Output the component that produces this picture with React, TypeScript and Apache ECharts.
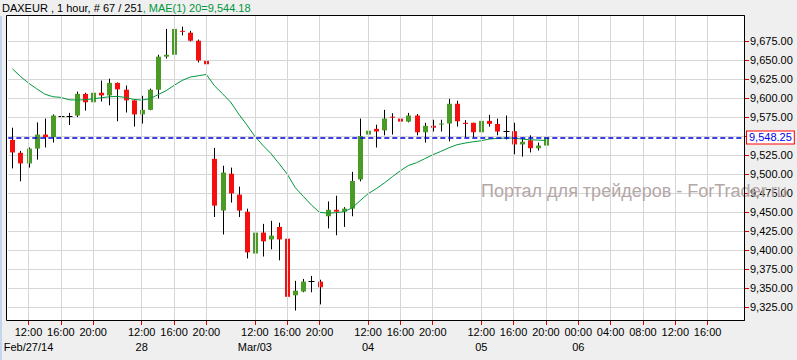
import React, { useEffect, useRef } from 'react';
import * as echarts from 'echarts';

// ---- data ----
const openV = [9545, 9528, 9514, 9533.5, 9552, 9548.5, 9577, 9577, 9577, 9605.5, 9594.5, 9607,
  9603.5, 9620, 9611, 9597, 9578.5, 9584.5, 9611, 9654.5, 9657, 9688.5, 9686, 9675.5, 9649, 9520,
  9452, 9500.5, 9473, 9450.5, 9395.5, 9423, 9414, 9430.5, 9415, 9340.5, 9345.5, 9359, 9358.5, 9444.5,
  9453, 9450.5, 9454.5, 9493, 9552, 9559.5, 9557.5, 9575.5, 9573, 9569, 9577, 9555, 9563.5, 9565.5,
  9566.5, 9592.5, 9567.5, 9567.5, 9555, 9570, 9566, 9556.5, 9556.5, 9539, 9544.5, 9534, 9537.5];
const closeV = [9528.5, 9514, 9533.5, 9552, 9548.5, 9577, 9577, 9577, 9605.5, 9594.5, 9607, 9603.5,
  9620, 9611.5, 9597, 9578.5, 9584.5, 9611, 9654.5, 9657, 9691, 9687.5, 9675.5, 9649.5, 9644.5, 9458.5,
  9502, 9474.5, 9452, 9397, 9423, 9411.5, 9419, 9414, 9338.5, 9346.5, 9358.5, 9359, 9351, 9453,
  9450.5, 9454.5, 9491, 9550, 9557, 9556, 9573, 9574.5, 9569, 9577, 9555, 9563.5, 9561, 9566.5,
  9592.5, 9569.5, 9566, 9555, 9570, 9566, 9556, 9556.5, 9539, 9542.5, 9534, 9537.5, 9548.25];
const lowV = [9507.5, 9490.5, 9508.5, 9519, 9535, 9541.5, 9570.5, 9564.5, 9575, 9583.5, 9586.5, 9595.5,
  9590.5, 9569.5, 9581, 9562.5, 9566.5, 9584, 9599.5, 9652, 9654.5, 9682.5, 9674.5, 9647, 9580, 9443.5,
  9420.5, 9462.5, 9443.5, 9389, 9381, 9391.5, 9401, 9386.5, 9337.5, 9320.5, 9344.5, 9344.5, 9328.5, 9428.5,
  9419.5, 9430.5, 9444.5, 9490.5, 9548.5, 9535, 9551, 9552, 9568, 9568, 9551, 9541.5, 9556, 9556,
  9543, 9562.5, 9548.5, 9548.5, 9551, 9562.5, 9551, 9545.5, 9526, 9523, 9528.5, 9531, 9530];
const highV = [9561, 9530.5, 9535, 9568, 9573, 9578.5, 9605.5, 9580.5, 9608.5, 9607, 9607.5, 9623,
  9625.5, 9620.5, 9616.5, 9597, 9603, 9612.5, 9657, 9691, 9695, 9694, 9688.5, 9677, 9649, 9534.5,
  9511, 9508.5, 9483.5, 9454.5, 9430.5, 9434.5, 9438.5, 9436, 9415, 9359.5, 9362, 9366, 9361, 9464,
  9471.5, 9456.5, 9503, 9573, 9578, 9565, 9584.5, 9580, 9590.5, 9580.5, 9579, 9567.5, 9571.5, 9571.5,
  9599, 9596.5, 9571, 9567.5, 9571.5, 9578, 9573, 9577, 9567.5, 9548, 9551, 9541.5, 9551];
const maV = [9638.6, 9628.5, 9619.7, 9612.3, 9605.3, 9601.8, 9600.9, 9597.8, 9597.4, 9597.8, 9599.1,
  9600.4, 9601.8, 9602.2, 9600.9, 9598.2, 9597.4, 9599.1, 9604.4, 9609.6, 9616.7, 9623.2, 9627.6,
  9629.4, 9631.1, 9616.2, 9605.7, 9594.7, 9579.0, 9564.9, 9549.6, 9537.7, 9526.8, 9513.6, 9500.0,
  9482.0, 9470.6, 9459.2, 9449.6, 9448.7, 9449.1, 9450.4, 9455.3, 9464.9, 9474.1, 9480.7, 9488.2,
  9496.5, 9504.4, 9511.4, 9514.9, 9520.2, 9525.4, 9529.8, 9534.6, 9538.6, 9540.8, 9542.5, 9543.9,
  9546.1, 9546.9, 9547.4, 9547.4, 9546.1, 9545.2, 9544.7, 9544.18];
const lastPrice = 9548.25;
const yTickValues = [9325, 9350, 9375, 9400, 9425, 9450, 9475, 9500, 9525, 9550, 9575, 9600, 9625, 9650, 9675];
const yLabelValues = [9325, 9350, 9375, 9400, 9425, 9450, 9475, 9500, 9525, 9575, 9600, 9625, 9650, 9675];
const DAYS = [
  { key: '2014-02-27', dateLabel: 'Feb/27/14', from: 10, to: 21, labeled: [12, 16, 20] },
  { key: '2014-02-28', dateLabel: '28', from: 8, to: 21, labeled: [12, 16, 20] },
  { key: '2014-03-03', dateLabel: 'Mar/03', from: 8, to: 21, labeled: [12, 16, 20] },
  { key: '2014-03-04', dateLabel: '04', from: 8, to: 21, labeled: [12, 16, 20] },
  { key: '2014-03-05', dateLabel: '05', from: 8, to: 23, labeled: [12, 16, 20] },
  { key: '2014-03-06', dateLabel: '06', from: 0, to: 20, labeled: [0, 4, 8, 12, 16] },
];
const titleMain = 'DAXEUR , 1 hour, # 67 / 251';
const titleMa = ', MAE(1) 20=9,544.18';
const watermark = 'Портал для трейдеров - ForTrader.ru';

// ---- derived ----
const categories: string[] = [];
const timeText: Record<number, string> = {};
const dateText: Record<number, string> = {};
DAYS.forEach((d) => {
  let first = true;
  for (let h = d.from; h <= d.to; h++) {
    const idx = categories.length;
    const hh = String(h).padStart(2, '0') + ':00';
    categories.push(d.key + ' ' + hh);
    if (d.labeled.includes(h)) {
      timeText[idx] = hh;
      if (first) dateText[idx] = d.dateLabel;
      first = false;
    }
  }
});
const tickIdx = Object.keys(timeText).map(Number);
const isTick = (i: number) => timeText[i] !== undefined;
const isDate = (i: number) => dateText[i] !== undefined;
const candleData = openV.map((o, i) => [i, o, closeV[i], lowV[i], highV[i]]);

const FONT = 'Liberation Sans, Arial, sans-serif';
const RED = '#f5100f';
const GREEN = '#4a9b25';
const MA_COLOR = '#00973c';
const fmt = (v: number) => v.toLocaleString('en-US', { minimumFractionDigits: 2, maximumFractionDigits: 2 });

export default function App() {
  const ref = useRef<HTMLDivElement>(null);
  useEffect(() => {
    if (!ref.current) return;
    const chart = echarts.init(ref.current, undefined, { renderer: 'svg' });
    const labelBase = { fontSize: 11, fontFamily: FONT, color: '#000', lineHeight: 15, margin: 4, showMinLabel: true, showMaxLabel: true, hideOverlap: false };
    const option: any = {
      animation: false,
      backgroundColor: '#efefef',
      title: {
        text: `{a|${titleMain}}{b|${titleMa}}`,
        left: 2,
        top: 2,
        padding: 0,
        textStyle: {
          fontSize: 11,
          fontFamily: FONT,
          fontWeight: 'normal',
          rich: {
            a: { color: '#000', fontSize: 11, fontFamily: FONT, lineHeight: 12 },
            b: { color: MA_COLOR, fontSize: 11, fontFamily: FONT, lineHeight: 12 },
          },
        },
      },
      grid: { left: 8.3, right: 53, top: 16, bottom: 40, containLabel: false, outerBoundsMode: 'none' },
      xAxis: [
        {
          type: 'category',
          data: categories,
          boundaryGap: true,
          axisLine: { show: true, lineStyle: { color: '#000', width: 1 } },
          axisTick: { show: true, alignWithLabel: true, interval: (i: number) => isTick(i), length: 5, lineStyle: { color: '#e00000' } },
          axisLabel: { ...labelBase, interval: (i: number) => isTick(i), formatter: (_v: string, i: number) => timeText[i] ?? '' },
          splitLine: { show: false },
        },
        {
          type: 'category',
          data: categories,
          boundaryGap: true,
          position: 'bottom',
          offset: 15,
          axisLine: { show: false },
          axisTick: { show: false },
          axisLabel: { ...labelBase, interval: (i: number) => isDate(i), formatter: (_v: string, i: number) => dateText[i] ?? '' },
          splitLine: { show: false },
        },
      ],
      yAxis: {
        type: 'value',
        position: 'right',
        min: 9308,
        max: 9708,
        axisLine: { show: true, lineStyle: { color: '#000', width: 1 } },
        axisTick: { show: true, length: 5, customValues: yTickValues, lineStyle: { color: '#e00000' } },
        axisLabel: { customValues: yLabelValues, formatter: fmt, fontSize: 11, fontFamily: FONT, color: '#000', margin: 6 },
        splitLine: { show: true, lineStyle: { color: '#d6d6d6', width: 1 } },
      },
      graphic: [
        { type: 'rect', z: -10, silent: true, shape: { x: 6, y: 15, width: 738, height: 305 }, style: { fill: '#ffffff' } },
        { type: 'rect', z: 100, silent: true, shape: { x: 6.5, y: 15.5, width: 738, height: 305 }, style: { fill: 'none', stroke: '#000', lineWidth: 1 } },
        { type: 'rect', z: 100, silent: true, shape: { x: 0, y: 16, width: 2, height: 344 }, style: { fill: '#c3d6ee' } },
        {
          type: 'text', z: 50, silent: true,
          style: { text: watermark, x: 481, y: 191, fill: '#b4a7a7', fontSize: 18, fontFamily: FONT, verticalAlign: 'middle' },
        },
      ],
      series: [
        {
          type: 'line',
          name: 'vgrid',
          data: [],
          z: 1,
          silent: true,
          markLine: {
            silent: true,
            animation: false,
            symbol: ['none', 'none'],
            label: { show: false },
            emphasis: { disabled: true },
            lineStyle: { color: '#d6d6d6', width: 1, type: 'solid' },
            data: tickIdx.map((i) => ({ xAxis: categories[i] })),
          },
        },
        {
          type: 'custom',
          name: 'DAXEUR',
          z: 3,
          clip: false,
          data: candleData,
          encode: { x: 0, y: [1, 2, 3, 4] },
          renderItem: (_params: any, api: any) => {
            const i = api.value(0);
            const o = api.value(1);
            const c = api.value(2);
            const l = api.value(3);
            const h = api.value(4);
            const po = api.coord([i, o]);
            const pc = api.coord([i, c]);
            const pl = api.coord([i, l]);
            const ph = api.coord([i, h]);
            const x = Math.round(po[0]) + 0.5;
            const children: any[] = [
              { type: 'line', shape: { x1: x, y1: ph[1], x2: x, y2: pl[1] }, style: { stroke: '#000', lineWidth: 1 } },
            ];
            if (o === c) {
              const y = Math.round(po[1]) + 0.5;
              children.push({ type: 'line', shape: { x1: x - 3, y1: y, x2: x + 3, y2: y }, style: { stroke: '#000', lineWidth: 1 } });
            } else {
              const top = Math.min(po[1], pc[1]);
              const bot = Math.max(po[1], pc[1]);
              children.push({
                type: 'rect',
                shape: { x: x - 2.5, y: top, width: 5, height: Math.max(bot - top, 1) },
                style: { fill: c > o ? GREEN : RED },
              });
            }
            return { type: 'group', children };
          },
        },
        {
          type: 'line',
          name: 'MAE(1) 20',
          data: maV,
          z: 4,
          showSymbol: false,
          symbol: 'none',
          silent: true,
          lineStyle: { color: MA_COLOR, width: 1 },
          markLine: {
            silent: true,
            animation: false,
            symbol: ['none', 'none'],
            emphasis: { disabled: true },
            lineStyle: { color: '#0000e6', type: [5, 3], width: 1.5 },
            label: {
              show: true,
              position: 'end',
              distance: 3,
              formatter: () => fmt(lastPrice),
              color: '#0000ee',
              fontSize: 11,
              fontFamily: FONT,
              lineHeight: 11,
              backgroundColor: '#ffffff',
              borderColor: '#ff0000',
              borderWidth: 1,
              padding: [1, 2, 0, 2],
            },
            data: [{ yAxis: lastPrice }],
          },
        },
      ],
    };
    chart.setOption(option);
    return () => chart.dispose();
  }, []);
  return <div ref={ref} style={{ position: 'fixed', left: 0, top: 0, width: 797, height: 360 }} />;
}
